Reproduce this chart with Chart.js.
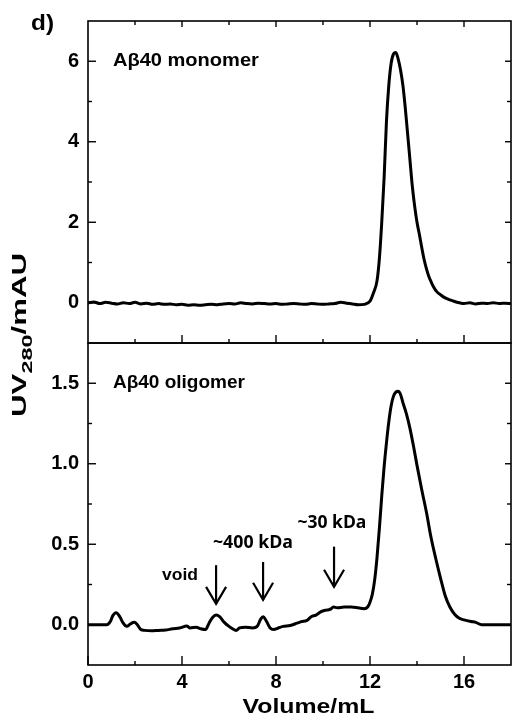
<!DOCTYPE html>
<html>
<head>
<meta charset="utf-8">
<script src="https://cdn.jsdelivr.net/npm/chart.js@4/dist/chart.umd.min.js"></script>
<style>
  html, body { margin: 0; padding: 0; background: #fff; }
  #wrap { width: 515px; height: 720px; }
</style>
</head>
<body>
<div id="wrap"><canvas id="secChart" width="515" height="720"></canvas></div>
<script>
// ==== DATA ====
const volumeTicks = [0, 4, 8, 12, 16];
const volumeMinor = [2, 6, 10, 14];
const monomerTicks = [0, 2, 4, 6];
const monomerMinor = [1, 3, 5];
const oligomerTicks = [0.0, 0.5, 1.0, 1.5];
const oligomerMinor = [0.25, 0.75, 1.25];

// A-beta 40 monomer trace
const monomerX = [0, 0.25, 0.5, 0.75, 1, 1.25, 1.5, 1.75, 2, 2.25, 2.5, 2.75, 3, 3.25, 3.5, 3.75,
  4, 4.25, 4.5, 4.75, 5, 5.25, 5.5, 5.75, 6, 6.25, 6.5, 6.75, 7, 7.25, 7.5, 7.75,
  8, 8.25, 8.5, 8.75, 9, 9.25, 9.5, 9.75, 10, 10.25, 10.5, 10.75, 11, 11.25, 11.5, 11.75,
  12.0, 12.15, 12.3, 12.4, 12.5, 12.6, 12.7, 12.8, 12.9, 13.0, 13.1, 13.2, 13.3, 13.4, 13.5,
  13.6, 13.7, 13.8, 13.9, 14.0, 14.1, 14.2, 14.3, 14.4, 14.5, 14.6, 14.7, 14.85, 15.0, 15.2,
  15.4, 15.6, 15.8, 16.0, 16.25, 16.5, 16.75, 17.0, 17.25, 17.5, 17.75, 18.0];
const monomerY = [0.0, 0.02, -0.02, 0.01, -0.01, -0.03, 0.0, -0.02, 0.01, -0.03, -0.01, -0.04, -0.02, -0.04, -0.03, -0.05,
  -0.04, -0.06, -0.05, -0.06, -0.05, -0.04, -0.05, -0.03, -0.02, -0.03, 0.0, -0.02, -0.03, -0.01, -0.02, -0.03,
  -0.02, -0.04, -0.03, -0.02, -0.03, -0.04, -0.02, -0.03, -0.04, -0.03, -0.02, 0.01, -0.01, -0.03, -0.05, -0.04,
  0.04, 0.25, 0.55, 1.1, 2.0, 3.1, 4.5, 5.4, 5.95, 6.18, 6.22, 6.05, 5.78, 5.4, 4.85,
  4.2, 3.55, 2.9, 2.4, 2.0, 1.7, 1.38, 1.08, 0.85, 0.66, 0.52, 0.4, 0.27, 0.2, 0.12,
  0.07, 0.03, 0.0, -0.02, 0.0, -0.03, -0.01, -0.02, 0.0, -0.02, -0.01, -0.02];

// A-beta 40 oligomer trace
const oligomerX = [0, 0.4, 0.8, 0.95, 1.05, 1.2, 1.35, 1.5, 1.65, 1.8, 1.97, 2.1, 2.25, 2.4, 2.7, 3.0,
  3.3, 3.6, 3.9, 4.2, 4.35, 4.6, 4.8, 5.0, 5.15, 5.3, 5.45, 5.6, 5.8, 6.0, 6.15, 6.3,
  6.45, 6.7, 7.0, 7.2, 7.35, 7.45, 7.6, 7.75, 7.9, 8.1, 8.3, 8.6, 8.9, 9.1, 9.3, 9.5,
  9.7, 9.9, 10.1, 10.3, 10.45, 10.6, 10.9, 11.2, 11.5, 11.75, 11.9, 12.0, 12.1, 12.2, 12.3,
  12.4, 12.5, 12.6, 12.7, 12.8, 12.9, 13.0, 13.1, 13.2, 13.3, 13.4, 13.55, 13.7, 13.85, 14.0,
  14.2, 14.4, 14.6, 14.8, 15.0, 15.2, 15.4, 15.6, 15.8, 16.0, 16.3, 16.5, 16.75, 17.0, 18.0];
const oligomerY = [0.0, 0.0, 0.0, 0.02, 0.055, 0.075, 0.05, 0.01, -0.01, 0.005, 0.015, 0.0, -0.03, -0.035, -0.038, -0.035,
  -0.033, -0.025, -0.02, -0.008, -0.02, -0.015, -0.025, -0.03, 0.01, 0.045, 0.06, 0.05, 0.015, -0.01, -0.025, -0.035,
  -0.02, -0.015, -0.02, -0.01, 0.035, 0.05, 0.02, -0.02, -0.03, -0.02, -0.01, -0.005, 0.01, 0.02, 0.025, 0.05,
  0.06, 0.08, 0.09, 0.095, 0.11, 0.105, 0.11, 0.11, 0.105, 0.1, 0.11, 0.14, 0.19, 0.28, 0.42,
  0.6, 0.8, 0.98, 1.13, 1.26, 1.36, 1.42, 1.445, 1.45, 1.43, 1.38, 1.31, 1.22, 1.11, 0.99,
  0.84, 0.7, 0.54, 0.41, 0.29, 0.18, 0.11, 0.065, 0.04, 0.03, 0.02, 0.015, 0.0, 0.0, 0.0];

// arrows in the oligomer panel (volume, top, tip)
const arrowX = [5.45, 7.45, 10.47];
const arrowTop = [0.37, 0.39, 0.485];
const arrowTip = [0.13, 0.155, 0.236];

const toPoints = (xs, ys) => xs.map((v, i) => ({ x: v, y: ys[i] }));

// ==== HELPERS ====
const BOLD = '"Liberation Sans", Arial, sans-serif';

function line(ctx, x1, y1, x2, y2) {
  ctx.beginPath();
  ctx.moveTo(x1, y1);
  ctx.lineTo(x2, y2);
  ctx.stroke();
}

// text stretched sideways to a given width (the figure's lettering is wide)
function wideText(ctx, text, x, y, font, width, align) {
  ctx.save();
  ctx.font = font;
  ctx.textAlign = 'left';
  ctx.textBaseline = 'middle';
  const k = width / ctx.measureText(text).width;
  let left = x;
  if (align === 'center') left = x - width / 2;
  if (align === 'right') left = x - width;
  ctx.translate(left, y);
  ctx.scale(k, 1);
  ctx.fillText(text, 0, 0);
  ctx.restore();
}

// frame, inward ticks, labels
const decorPlugin = {
  id: 'decor',
  afterDatasetsDraw(chart) {
    const { ctx, scales } = chart;
    const x = scales.x, yT = scales.yT, yB = scales.yB;
    const L = x.left, R = x.right;
    ctx.save();
    ctx.strokeStyle = '#000';
    ctx.fillStyle = '#000';
    ctx.lineWidth = 1.6;

    // panel frames
    [yT, yB].forEach(s => ctx.strokeRect(L, s.top, R - L, s.bottom - s.top));

    ctx.lineWidth = 1.4;
    // y ticks
    const yTicks = (s, major, minor) => {
      major.forEach(v => {
        const p = s.getPixelForValue(v);
        line(ctx, L, p, L + 8, p);
        line(ctx, R, p, R - 6, p);
      });
      minor.forEach(v => {
        const p = s.getPixelForValue(v);
        line(ctx, L, p, L + 4, p);
        line(ctx, R, p, R - 4, p);
      });
    };
    yTicks(yT, monomerTicks, monomerMinor);
    yTicks(yB, oligomerTicks, oligomerMinor);

    // x ticks: top edge of upper panel (down), shared edge (up), bottom edge (up)
    volumeTicks.forEach(v => {
      const p = x.getPixelForValue(v);
      if (v > 0) line(ctx, p, yT.top, p, yT.top + 6);
      if (v > 0) line(ctx, p, yT.bottom, p, yT.bottom - 8);
      line(ctx, p, yB.bottom, p, yB.bottom - 9);
    });
    volumeMinor.forEach(v => {
      const p = x.getPixelForValue(v);
      line(ctx, p, yT.top, p, yT.top + 4);
      line(ctx, p, yT.bottom, p, yT.bottom - 4);
      line(ctx, p, yB.bottom, p, yB.bottom - 4);
    });

    // panel labels
    wideText(ctx, 'A\u03b240 monomer', x.getPixelForValue(1.06), yT.getPixelForValue(6), 'bold 19px ' + BOLD, 146, 'left');
    wideText(ctx, 'A\u03b240 oligomer', x.getPixelForValue(1.06), yB.getPixelForValue(1.5), 'bold 19px ' + BOLD, 132, 'left');

    // annotations
    wideText(ctx, 'void', x.getPixelForValue(4.68), yB.getPixelForValue(0.31), 'bold 17px ' + BOLD, 36, 'right');
    wideText(ctx, '~400 kDa', x.getPixelForValue(7.02), yB.getPixelForValue(0.51), 'bold 18px "Open Sans", sans-serif', 80, 'center');
    wideText(ctx, '~30 kDa', x.getPixelForValue(10.38), yB.getPixelForValue(0.635), 'bold 18px "Open Sans", sans-serif', 69, 'center');

    // arrows
    ctx.lineWidth = 2.2;
    arrowX.forEach((v, i) => {
      const px = x.getPixelForValue(v);
      const top = yB.getPixelForValue(arrowTop[i]);
      const tip = yB.getPixelForValue(arrowTip[i]);
      line(ctx, px, top, px, tip);
      ctx.beginPath();
      ctx.moveTo(px - 10, tip - 17);
      ctx.lineTo(px, tip);
      ctx.lineTo(px + 10, tip - 17);
      ctx.stroke();
    });

    // panel letter
    wideText(ctx, 'd)', 31, 24, 'bold 22px ' + BOLD, 23, 'left');

    // x title
    wideText(ctx, 'Volume/mL', (L + R) / 2 + 9, 707, 'bold 20px ' + BOLD, 132, 'center');

    // y title with subscript, rotated and stretched along its baseline
    ctx.translate(22, 335);
    ctx.rotate(-Math.PI / 2);
    const big = 'bold 20px ' + BOLD, small = 'bold 15px ' + BOLD;
    ctx.font = big; const w1 = ctx.measureText('UV').width; const w3 = ctx.measureText('/mAU').width;
    ctx.font = small; const w2 = ctx.measureText('280').width;
    const k = 164 / (w1 + w2 + w3);
    ctx.scale(k, 1);
    let cx = -(w1 + w2 + w3) / 2;
    ctx.textAlign = 'left';
    ctx.textBaseline = 'middle';
    ctx.font = big; ctx.fillText('UV', cx, -2); cx += w1;
    ctx.font = small; ctx.fillText('280', cx, 6); cx += w2;
    ctx.font = big; ctx.fillText('/mAU', cx, -2);
    ctx.restore();
  }
};

const tickFont = { family: BOLD, size: 20, weight: 'bold' };

const chart = new Chart(document.getElementById('secChart').getContext('2d'), {
  type: 'line',
  data: {
    datasets: [
      { data: toPoints(oligomerX, oligomerY), yAxisID: 'yB' },
      { data: toPoints(monomerX, monomerY), yAxisID: 'yT' }
    ]
  },
  options: {
    responsive: false,
    animation: false,
    layout: { padding: { top: 20, right: 4, left: 0, bottom: 0 } },
    elements: {
      line: { borderColor: '#000', borderWidth: 3, cubicInterpolationMode: 'monotone' },
      point: { radius: 0 }
    },
    plugins: { legend: { display: false }, tooltip: { enabled: false } },
    scales: {
      x: {
        type: 'linear', min: 0, max: 18,
        afterBuildTicks: s => { s.ticks = volumeTicks.map(v => ({ value: v })); },
        afterFit: s => { s.height = 55; },
        ticks: { color: '#000', font: tickFont, padding: 5, maxRotation: 0 },
        grid: { display: false, drawTicks: false },
        border: { display: false }
      },
      yB: {
        type: 'linear', position: 'left', stack: 'panels', stackWeight: 1,
        min: -0.25, max: 1.75,
        afterBuildTicks: s => { s.ticks = oligomerTicks.map(v => ({ value: v })); },
        afterFit: s => { s.width = 88; },
        ticks: { color: '#000', font: tickFont, padding: 9, callback: v => v.toFixed(1) },
        grid: { display: false, drawTicks: false },
        border: { display: false }
      },
      yT: {
        type: 'linear', position: 'left', stack: 'panels', stackWeight: 1,
        min: -1, max: 7,
        afterBuildTicks: s => { s.ticks = monomerTicks.map(v => ({ value: v })); },
        afterFit: s => { s.width = 88; },
        ticks: { color: '#000', font: tickFont, padding: 9 },
        grid: { display: false, drawTicks: false },
        border: { display: false }
      }
    }
  },
  plugins: [decorPlugin]
});
</script>
</body>
</html>
